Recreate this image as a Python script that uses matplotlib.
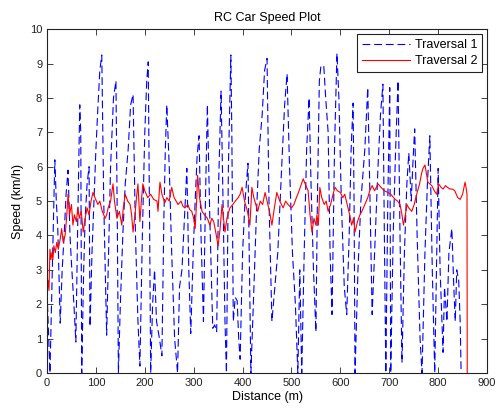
import matplotlib.pyplot as plt

# Traversal 1 (blue dashed) - distance (m), speed (km/h)
dist1 = [1, 6, 10, 13, 16, 19, 22, 27, 31, 35, 39, 43, 47, 50, 55, 59, 63, 67,
         69, 71, 75, 78, 82, 86, 88, 92, 96, 100, 104, 108, 112, 116, 122, 126,
         130, 136, 141, 144, 146, 150, 155, 160, 166, 171, 176, 181, 186, 190,
         195, 200, 204, 207, 210, 212, 216, 220, 224, 230, 235, 239, 242, 245,
         250, 255, 261, 267, 271, 276, 281, 286, 290, 294, 299, 303, 307, 311,
         315, 320, 324, 328, 333, 339, 343, 347, 351, 356, 360, 364, 367, 371,
         376, 378, 381, 385, 389, 392, 395, 400, 405, 411, 414, 417, 422, 428,
         434, 440, 445, 450, 454, 460, 466, 472, 480, 486, 491, 496, 502, 508,
         513, 517, 521, 526, 531, 536, 540, 545, 550, 553, 557, 560, 566, 570,
         575, 579, 583, 588, 593, 597, 602, 608, 613, 618, 622, 626, 628, 630,
         636, 642, 650, 656, 660, 665, 670, 677, 682, 687, 690, 693, 697, 701,
         703, 708, 713, 718, 722, 726, 731, 736, 740, 745, 748, 752, 757, 763,
         767, 773, 778, 783, 788, 793, 797, 800, 804, 810, 813, 818, 822, 828,
         832, 835, 838, 842, 845, 847]
speed1 = [2.0, 0.0, 2.5, 4.5, 6.2, 5.0, 4.2, 1.45, 3.0, 4.0, 5.2, 5.9, 4.0, 3.2,
          2.0, 0.9, 4.5, 7.8, 7.0, 0.0, 3.0, 4.5, 5.5, 6.0, 1.35, 3.5, 5.0, 6.5,
          7.7, 8.8, 9.25, 5.0, 1.1, 3.5, 6.0, 8.0, 8.5, 4.0, 0.0, 2.0, 4.0, 5.5,
          6.5, 7.8, 8.1, 4.0, 1.5, 0.2, 4.0, 7.0, 8.5, 9.05, 4.0, 0.0, 2.0, 3.0,
          1.5, 1.0, 0.5, 4.5, 6.5, 7.8, 6.0, 3.5, 1.0, 0.0, 2.5, 3.0, 4.5, 5.95,
          3.0, 1.15, 3.5, 5.0, 6.3, 6.9, 4.0, 1.5, 5.0, 7.8, 4.5, 1.3, 1.4, 1.2,
          5.5, 8.2, 5.0, 1.5, 0.0, 6.0, 9.25, 7.0, 1.5, 2.2, 2.1, 1.0, 0.4, 3.5,
          5.0, 6.1, 3.0, 0.0, 2.0, 4.5, 6.5, 7.5, 8.8, 9.15, 5.0, 1.5, 2.5, 3.5,
          6.0, 7.8, 8.7, 6.0, 3.5, 2.0, 0.0, 3.0, 0.0, 3.5, 6.5, 8.0, 5.5, 3.0,
          1.2, 5.0, 8.5, 8.9, 8.95, 8.0, 7.0, 3.5, 1.7, 6.5, 9.3, 8.0, 5.0, 2.5,
          1.7, 4.0, 6.5, 7.85, 5.0, 0.0, 3.0, 5.0, 6.5, 8.3, 5.5, 1.7, 3.5, 6.0,
          7.5, 8.4, 4.0, 0.0, 5.0, 8.3, 0.0, 4.0, 6.5, 8.5, 4.0, 0.3, 3.5, 5.5,
          6.4, 5.0, 6.0, 7.1, 4.0, 1.0, 0.0, 3.5, 5.5, 6.9, 3.0, 0.0, 3.5, 5.95,
          3.0, 0.6, 2.5, 1.5, 3.5, 4.2, 2.5, 1.5, 3.0, 2.7, 1.5, 0.0]

# Traversal 2 (red solid)
dist2 = [0, 2, 4, 6, 8, 10, 12, 14, 17, 20, 23, 27, 30, 33, 37, 40, 43, 46, 50,
         53, 56, 60, 63, 66, 70, 74, 78, 82, 86, 90, 94, 98, 104, 108, 113, 119,
         122, 125, 130, 135, 138, 143, 148, 153, 156, 160, 165, 170, 173, 176,
         180, 183, 186, 190, 193, 196, 200, 206, 212, 218, 225, 227, 231, 235,
         241, 245, 250, 255, 260, 264, 268, 274, 278, 282, 288, 292, 296, 300,
         303, 306, 308, 312, 317, 322, 328, 333, 337, 341, 345, 350, 354, 358,
         361, 364, 368, 374, 380, 385, 391, 395, 399, 404, 410, 415, 419, 423,
         427, 431, 436, 441, 446, 450, 455, 460, 465, 470, 476, 483, 488, 493,
         500, 505, 510, 513, 518, 524, 528, 534, 538, 542, 546, 550, 552, 555,
         558, 562, 567, 571, 575, 580, 585, 589, 594, 600, 605, 609, 614, 619,
         623, 627, 630, 635, 640, 644, 650, 656, 660, 665, 670, 677, 683, 690,
         697, 703, 712, 717, 722, 726, 729, 733, 736, 740, 746, 751, 757, 762,
         766, 769, 773, 776, 779, 783, 787, 792, 797, 801, 806, 810, 815, 819,
         824, 829, 834, 840, 845, 850, 855, 857, 859, 859.5]
speed2 = [2.3, 2.7, 2.4, 3.6, 3.3, 3.5, 3.3, 3.7, 3.5, 3.8, 3.6, 3.9, 4.2, 3.8,
          4.0, 4.5, 5.2, 4.6, 4.9, 4.3, 4.6, 4.4, 4.8, 4.5, 4.7, 4.1, 4.5, 4.8,
          4.6, 5.0, 5.25, 5.1, 4.9, 5.0, 4.7, 4.5, 4.6, 4.8, 5.0, 5.5, 5.0, 4.5,
          4.7, 4.3, 4.8, 5.2, 5.0, 4.9, 4.6, 4.1, 4.6, 5.1, 5.5, 4.4, 5.0, 5.5,
          5.3, 5.1, 5.2, 5.05, 5.0, 4.7, 5.55, 5.2, 4.95, 5.1, 5.0, 5.4, 5.1, 5.0,
          4.9, 5.0, 4.85, 4.8, 4.9, 4.75, 4.7, 4.5, 4.2, 5.0, 5.75, 5.1, 4.7, 4.6,
          4.5, 4.3, 4.5, 4.4, 4.1, 3.7, 4.2, 4.9, 4.5, 4.1, 4.5, 4.8, 4.9, 5.0,
          5.1, 5.2, 5.4, 5.0, 4.7, 4.3, 5.4, 5.1, 4.9, 4.7, 5.0, 4.9, 5.25, 5.0,
          4.7, 4.3, 4.8, 5.25, 5.0, 4.8, 5.0, 4.9, 4.8, 4.9, 5.1, 5.2, 5.4, 5.65,
          5.5, 5.3, 4.6, 4.1, 4.5, 4.3, 4.6, 4.3, 5.4, 5.1, 4.9, 5.0, 4.7, 4.9,
          5.2, 5.4, 5.3, 5.25, 5.1, 5.2, 4.9, 4.6, 4.3, 4.5, 4.1, 4.4, 4.6, 4.7,
          4.9, 5.1, 5.3, 5.45, 5.3, 5.5, 5.4, 5.3, 5.25, 5.2, 5.05, 5.0, 4.9, 4.6,
          4.3, 4.6, 4.9, 4.8, 4.7, 4.9, 5.25, 5.5, 5.8, 5.95, 6.05, 5.8, 5.55,
          5.5, 5.45, 5.3, 5.2, 5.5, 5.4, 5.35, 5.45, 5.4, 5.35, 5.35, 5.3, 5.1,
          5.05, 5.2, 5.55, 5.4, 5.2, 0.0]

plt.rcParams['font.family'] = ['Liberation Sans', 'DejaVu Sans']

fig = plt.figure(figsize=(4.98, 4.11), dpi=100)
ax = fig.add_axes([0.0944, 0.0925, 0.8836, 0.8365])

ax.plot(dist1, speed1, color='#0000ff', lw=0.8, dashes=(7, 3.5), label='Traversal 1')
ax.plot(dist2, speed2, color='#ff0000', lw=0.8, label='Traversal 2')

ax.set_xlim(0, 900)
ax.set_ylim(0, 10)
ax.set_xticks(range(0, 901, 100))
ax.set_yticks(range(0, 11))
ax.tick_params(direction='in', top=True, right=True, length=4, width=0.6,
               labelsize=8, colors='#222222')
for s in ax.spines.values():
    s.set_linewidth(0.8)
    s.set_color('#222222')

ax.set_title('RC Car Speed Plot', fontsize=9, pad=6)
ax.set_xlabel('Distance (m)', fontsize=9, labelpad=2)
ax.set_ylabel('Speed (km/h)', fontsize=9, labelpad=4)

leg = ax.legend(loc='upper right', fontsize=9, fancybox=False, framealpha=1,
                edgecolor='#222222', handlelength=3.8, borderaxespad=0.4,
                borderpad=0.4, labelspacing=0.3, handletextpad=0.4)
leg.get_frame().set_linewidth(0.8)

fig.savefig('out.png', dpi=100)
